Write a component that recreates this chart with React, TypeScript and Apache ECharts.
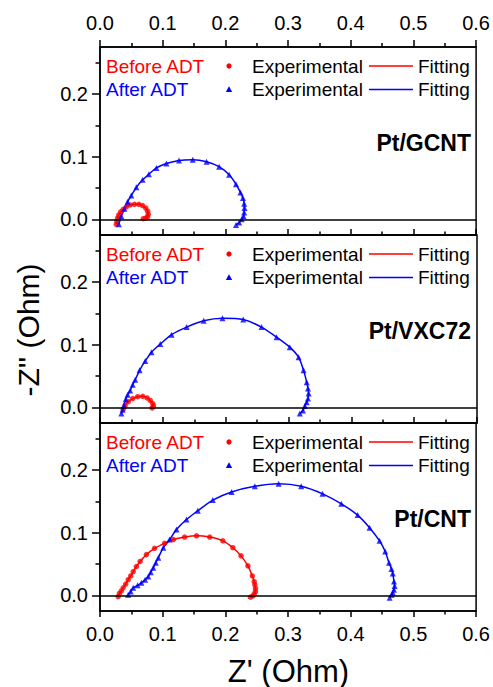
import React, { useEffect, useRef } from 'react';
import * as echarts from 'echarts';

const FONT = "'Liberation Sans', Arial, Helvetica, sans-serif";
const RED = '#ff0000';
const BLUE = '#0000ff';

const panelNames = ['Pt/GCNT', 'Pt/VXC72', 'Pt/CNT'];
const yMajor = [0, 0.1, 0.2];
const yMinor = [0.05, 0.15, 0.25];

// Pt/GCNT
const gcntBeforeExp = [
  [0.026, -0.008], [0.027, -0.003], [0.028, 0.002], [0.030, 0.007], [0.033, 0.012], [0.037, 0.016],
  [0.042, 0.020], [0.048, 0.023], [0.055, 0.024], [0.062, 0.024], [0.068, 0.022], [0.073, 0.018],
  [0.076, 0.013], [0.077, 0.008], [0.076, 0.004], [0.073, 0.002], [0.069, 0.001],
];
const gcntAfterExp = [
  [0.030, -0.008], [0.034, 0.005], [0.039, 0.017], [0.044, 0.028], [0.050, 0.038], [0.058, 0.051],
  [0.068, 0.063], [0.078, 0.072], [0.090, 0.082], [0.106, 0.089], [0.126, 0.094], [0.148, 0.095],
  [0.170, 0.092], [0.190, 0.084], [0.206, 0.071], [0.217, 0.056], [0.224, 0.043], [0.228, 0.034],
  [0.230, 0.025], [0.2305, 0.018], [0.230, 0.011], [0.229, 0.005], [0.226, 0.000], [0.222, -0.005],
  [0.217, -0.009],
];
// Pt/VXC72
const vxcBeforeExp = [
  [0.037, -0.003], [0.040, 0.003], [0.045, 0.009], [0.052, 0.014], [0.060, 0.017], [0.068, 0.0175],
  [0.075, 0.015], [0.080, 0.011], [0.084, 0.006], [0.085, 0.002], [0.083, -0.001],
];
const vxcAfterExp = [
  [0.034, -0.010], [0.036, -0.004], [0.038, 0.003], [0.041, 0.013], [0.044, 0.020], [0.048, 0.027],
  [0.052, 0.036], [0.056, 0.044], [0.063, 0.059], [0.072, 0.074], [0.082, 0.088], [0.096, 0.101],
  [0.114, 0.116], [0.138, 0.128], [0.165, 0.138], [0.195, 0.142], [0.228, 0.140], [0.257, 0.128],
  [0.281, 0.112], [0.302, 0.096], [0.316, 0.080], [0.324, 0.059], [0.329, 0.040], [0.331, 0.030],
  [0.332, 0.022], [0.331, 0.014], [0.329, 0.008], [0.326, 0.002], [0.323, -0.005], [0.318, -0.010],
];
// Pt/CNT
const cntBeforeExp = [
  [0.029, -0.002], [0.031, 0.003], [0.034, 0.007], [0.037, 0.012], [0.041, 0.018], [0.045, 0.025],
  [0.049, 0.031], [0.053, 0.038], [0.058, 0.046], [0.064, 0.054], [0.074, 0.065], [0.087, 0.075],
  [0.103, 0.083], [0.117, 0.089], [0.135, 0.093], [0.154, 0.095], [0.175, 0.093], [0.196, 0.087],
  [0.212, 0.076], [0.225, 0.063], [0.236, 0.047], [0.243, 0.031], [0.246, 0.022], [0.247, 0.017],
  [0.248, 0.011], [0.248, 0.006], [0.246, 0.002], [0.244, -0.001], [0.240, -0.003],
];
const cntAfterExp = [
  [0.045, 0.001], [0.049, 0.006], [0.053, 0.012], [0.060, 0.016], [0.066, 0.020], [0.072, 0.025],
  [0.077, 0.030], [0.081, 0.037], [0.085, 0.044], [0.089, 0.052], [0.093, 0.060], [0.101, 0.076],
  [0.111, 0.089], [0.122, 0.105], [0.138, 0.121], [0.156, 0.135], [0.180, 0.152], [0.210, 0.165],
  [0.247, 0.174], [0.285, 0.178], [0.321, 0.174], [0.355, 0.162], [0.385, 0.146], [0.411, 0.128],
  [0.430, 0.108], [0.446, 0.087], [0.455, 0.070], [0.461, 0.052], [0.465, 0.042], [0.467, 0.035],
  [0.469, 0.022], [0.470, 0.015], [0.469, 0.009], [0.467, 0.004], [0.465, 0.001], [0.462, -0.004],
];
const gcntBeforeFit = gcntBeforeExp;
const gcntAfterFit = gcntAfterExp;
const vxcBeforeFit = vxcBeforeExp;
const vxcAfterFit = vxcAfterExp;
const cntBeforeFit = cntBeforeExp;
const cntAfterFit = cntAfterExp;

const panels = [
  { before: gcntBeforeExp, after: gcntAfterExp, beforeFit: gcntBeforeFit, afterFit: gcntAfterFit },
  { before: vxcBeforeExp, after: vxcAfterExp, beforeFit: vxcBeforeFit, afterFit: vxcAfterFit },
  { before: cntBeforeExp, after: cntAfterExp, beforeFit: cntBeforeFit, afterFit: cntAfterFit },
];

const LEFT = 100;
const RIGHT = 16;
const TOP0 = 47;
const PH = 188;

const fmt = (v: number) => (Math.abs(v) < 1e-9 ? 0 : v).toFixed(1);

export default function App() {
  const ref = useRef<HTMLDivElement>(null);
  useEffect(() => {
    const chart = echarts.init(ref.current!, null, { renderer: 'svg' });
    const grids: any[] = [];
    const xAxes: any[] = [];
    const yAxes: any[] = [];
    const series: any[] = [];
    const graphic: any[] = [];
    const tickStyle = { color: '#000', width: 1.5 };

    panels.forEach((p, i) => {
      const top = TOP0 + i * PH;
      grids.push({
        left: LEFT, right: RIGHT, top, height: PH,
        show: true, borderColor: '#000', borderWidth: 1.5, backgroundColor: 'transparent',
      });
      xAxes.push({
        type: 'value', gridIndex: i, position: 'bottom', min: 0, max: 0.6, interval: 0.1,
        axisLine: { show: true, onZero: false, lineStyle: tickStyle },
        axisTick: { show: true, inside: i < 2, length: 6, lineStyle: tickStyle },
        minorTick: { show: true, splitNumber: 2, length: 3.5, lineStyle: tickStyle },
        splitLine: { show: false },
        axisLabel: {
          show: i === 2, formatter: fmt, fontSize: 20, color: '#000', fontFamily: FONT, margin: 13,
        },
      });
      yAxes.push({
        type: 'value', gridIndex: i, position: 'left', min: -0.025, max: 0.275,
        axisLine: { show: true, onZero: false, lineStyle: tickStyle },
        axisTick: { show: true, customValues: yMajor, length: 8, lineStyle: tickStyle },
        splitLine: { show: false },
        axisLabel: {
          customValues: yMajor, formatter: fmt, fontSize: 20, color: '#000', fontFamily: FONT, margin: 12,
        },
      });
      yAxes.push({
        type: 'value', gridIndex: i, position: 'left', min: -0.025, max: 0.275,
        axisLine: { show: false },
        axisTick: { show: true, customValues: yMinor, length: 4.5, lineStyle: tickStyle },
        splitLine: { show: false },
        axisLabel: { show: false },
      });

      series.push({
        type: 'line', xAxisIndex: i, yAxisIndex: 2 * i, data: p.beforeFit, showSymbol: false,
        smooth: 0.25, lineStyle: { color: RED, width: 1.5 }, z: 2,
        markLine: {
          silent: true, symbol: 'none', label: { show: false },
          lineStyle: { color: '#000', width: 1.5, type: 'solid' }, data: [{ yAxis: 0 }],
        },
      });
      series.push({
        type: 'scatter', xAxisIndex: i, yAxisIndex: 2 * i, data: p.before, symbol: 'circle',
        symbolSize: 5.5, itemStyle: { color: RED }, z: 3,
      });
      series.push({
        type: 'line', xAxisIndex: i, yAxisIndex: 2 * i, data: p.afterFit, showSymbol: false,
        smooth: 0.25, lineStyle: { color: BLUE, width: 1.5 }, z: 2,
      });
      series.push({
        type: 'scatter', xAxisIndex: i, yAxisIndex: 2 * i, data: p.after, symbol: 'triangle',
        symbolSize: 6, itemStyle: { color: BLUE }, z: 3,
      });

      const r1 = top + 19;
      const r2 = top + 42.5;
      const txt = (x: number, y: number, text: string, fill: string, extra: any = {}) => ({
        type: 'text', x, y, silent: true,
        style: { text, fill, font: `19px ${FONT}`, verticalAlign: 'middle', align: 'left', ...extra },
      });
      graphic.push(txt(106, r1, 'Before ADT', RED));
      graphic.push(txt(106, r2, 'After ADT', BLUE));
      graphic.push({ type: 'circle', shape: { cx: 229, cy: r1, r: 2.6 }, style: { fill: RED }, silent: true });
      graphic.push({
        type: 'polygon', shape: { points: [[229, r2 - 3.2], [232.2, r2 + 2.4], [225.8, r2 + 2.4]] },
        style: { fill: BLUE }, silent: true,
      });
      graphic.push(txt(252, r1, 'Experimental', '#000'));
      graphic.push(txt(252, r2, 'Experimental', '#000'));
      graphic.push({ type: 'line', shape: { x1: 369, y1: r1, x2: 413, y2: r1 }, style: { stroke: RED, lineWidth: 1.5 }, silent: true });
      graphic.push({ type: 'line', shape: { x1: 369, y1: r2, x2: 413, y2: r2 }, style: { stroke: BLUE, lineWidth: 1.5 }, silent: true });
      graphic.push(txt(418, r1, 'Fitting', '#000'));
      graphic.push(txt(418, r2, 'Fitting', '#000'));
      graphic.push(txt(471, top + 96, panelNames[i], '#000', { align: 'right', font: `bold 23px ${FONT}` }));
    });

    xAxes.push({
      type: 'value', gridIndex: 0, position: 'top', min: 0, max: 0.6, interval: 0.1,
      axisLine: { show: true, onZero: false, lineStyle: tickStyle },
      axisTick: { show: true, inside: false, length: 7, lineStyle: tickStyle },
      minorTick: { show: true, splitNumber: 2, length: 4, lineStyle: tickStyle },
      splitLine: { show: false },
      axisLabel: { formatter: fmt, fontSize: 20, color: '#000', fontFamily: FONT, margin: 14 },
    });

    graphic.push({
      type: 'text', x: 288.5, y: 671, silent: true,
      style: { text: "Z' (Ohm)", fill: '#000', font: `31px ${FONT}`, align: 'center', verticalAlign: 'middle' },
    });
    graphic.push({
      type: 'text', x: 28, y: 330, rotation: Math.PI / 2, silent: true,
      style: { text: "-Z'' (Ohm)", fill: '#000', font: `30px ${FONT}`, align: 'center', verticalAlign: 'middle' },
    });

    chart.setOption({
      animation: false,
      backgroundColor: '#fff',
      grid: grids,
      xAxis: xAxes,
      yAxis: yAxes,
      series,
      graphic,
    });
    return () => chart.dispose();
  }, []);
  return <div ref={ref} style={{ position: 'fixed', left: 0, top: 0, width: 493, height: 687 }} />;
}
